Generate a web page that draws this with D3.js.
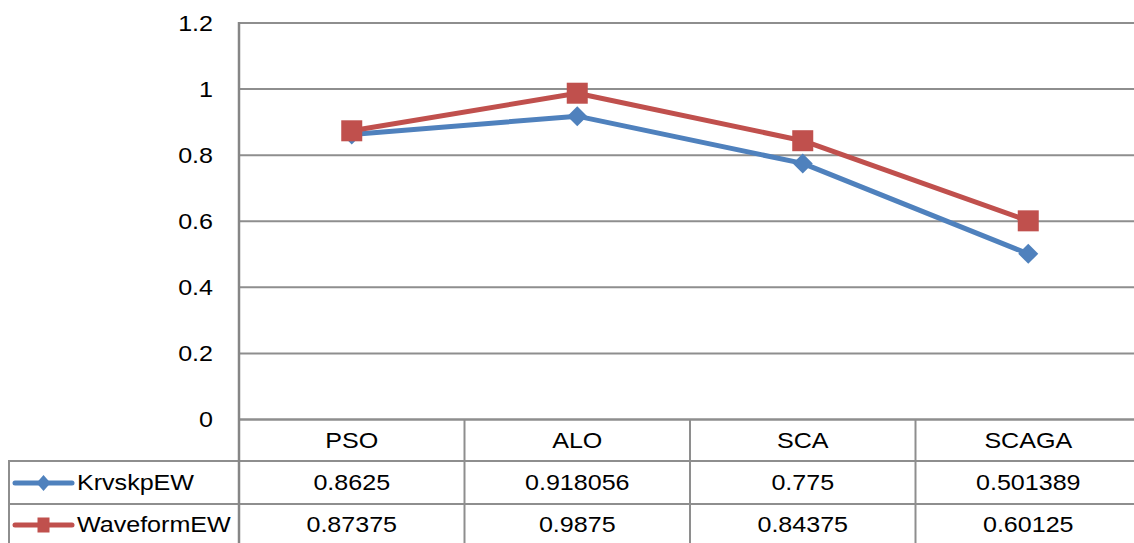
<!DOCTYPE html>
<html>
<head>
<meta charset="utf-8">
<script src="https://cdn.jsdelivr.net/npm/d3@7/dist/d3.min.js"></script>
<style>
  html, body { margin: 0; padding: 0; background: #fff; }
  svg { display: block; }
  text { font-family: "Liberation Sans", Arial, sans-serif; fill: #000; }
</style>
</head>
<body>
<svg id="chart" width="1134" height="543"></svg>
<script>
// Chart data
const categories = ["PSO", "ALO", "SCA", "SCAGA"];
const seriesNames = ["KrvskpEW", "WaveformEW"];
const krvskpValues = [0.8625, 0.918056, 0.775, 0.501389];
const waveformValues = [0.87375, 0.9875, 0.84375, 0.60125];
const krvskpLabels = ["0.8625", "0.918056", "0.775", "0.501389"];
const waveformLabels = ["0.87375", "0.9875", "0.84375", "0.60125"];
const yTicks = [0, 0.2, 0.4, 0.6, 0.8, 1, 1.2];

const W = 1134, H = 543;
const svg = d3.select("#chart");

const plotLeft = 239, colWidth = 225.5;
const x = d3.scaleBand().domain(categories).range([plotLeft, plotLeft + colWidth * categories.length]);
const y = d3.scaleLinear().domain([0, 1.2]).range([419.5, 23]);

const SX = 1.14; // horizontal stretch of the labels
function label(g, px, py, str, anchor, size) {
  return g.append("text")
    .attr("transform", `translate(${px},${py}) scale(${SX},1)`)
    .attr("text-anchor", anchor)
    .style("font-size", size + "px")
    .text(str);
}

// Horizontal gridlines
const grid = svg.append("g");
grid.selectAll("line").data(yTicks.filter(d => d > 0)).join("line")
  .attr("x1", plotLeft).attr("x2", W)
  .attr("y1", d => y(d)).attr("y2", d => y(d))
  .attr("stroke", "#8e8e8e").attr("stroke-width", 2);

// Y tick labels
const yl = svg.append("g");
yTicks.forEach(t => label(yl, 213, y(t) + 7.5, String(t), "end", 22));

// Data table
const rowTop = [419.5, 461, 504], rowH = [41.5, 43, 43];
const tbl = svg.append("g");
const lineColor = "#8e8e8e";
// horizontal lines
tbl.append("line").attr("x1", plotLeft).attr("x2", W).attr("y1", 419.5).attr("y2", 419.5)
  .attr("stroke", lineColor).attr("stroke-width", 2.5);
[461, 504].forEach(yy => tbl.append("line").attr("x1", 9).attr("x2", W)
  .attr("y1", yy).attr("y2", yy).attr("stroke", lineColor).attr("stroke-width", 2));
// left border of the legend column
tbl.append("line").attr("x1", 9).attr("x2", 9).attr("y1", 460).attr("y2", H)
  .attr("stroke", lineColor).attr("stroke-width", 2);
// column separators
categories.slice(1).forEach(c => tbl.append("line")
  .attr("x1", x(c)).attr("x2", x(c)).attr("y1", 419.5).attr("y2", H)
  .attr("stroke", lineColor).attr("stroke-width", 2));

// Vertical axis (extends down through the table)
svg.append("line").attr("x1", plotLeft).attr("x2", plotLeft).attr("y1", 22).attr("y2", H)
  .attr("stroke", "#868686").attr("stroke-width", 2.5);

// Table text
categories.forEach((c, i) => {
  const cx = x(c) + x.bandwidth() / 2;
  label(tbl, cx, 448, c, "middle", 22);
  label(tbl, cx, 490, krvskpLabels[i], "middle", 22);
  label(tbl, cx, 532, waveformLabels[i], "middle", 22);
});
label(tbl, 77, 490, seriesNames[0], "start", 22);
label(tbl, 77, 532, seriesNames[1], "start", 22);

// Series
const series = [
  { values: krvskpValues, color: "#4F81BD", marker: "diamond" },
  { values: waveformValues, color: "#C0504D", marker: "square" }
];
const line = d3.line()
  .x((d, i) => x(categories[i]) + x.bandwidth() / 2)
  .y(d => y(d));

function drawMarker(g, kind, cx, cy, w, h, color) {
  if (kind === "diamond") {
    g.append("path")
      .attr("d", `M${cx},${cy - h / 2}L${cx + w / 2},${cy}L${cx},${cy + h / 2}L${cx - w / 2},${cy}Z`)
      .attr("fill", color);
  } else {
    g.append("rect").attr("x", cx - w / 2).attr("y", cy - h / 2)
      .attr("width", w).attr("height", h).attr("fill", color);
  }
}

series.forEach(s => {
  const g = svg.append("g");
  g.append("path").datum(s.values)
    .attr("d", line).attr("fill", "none")
    .attr("stroke", s.color).attr("stroke-width", 5)
    .attr("stroke-linejoin", "round");
  s.values.forEach((v, i) => {
    const cx = x(categories[i]) + x.bandwidth() / 2;
    if (s.marker === "diamond") drawMarker(g, "diamond", cx, y(v), 20, 20, s.color);
    else drawMarker(g, "square", cx, y(v), 21, 21, s.color);
  });
});

// Legend keys inside the table
const keys = svg.append("g");
[[483, series[0]], [525, series[1]]].forEach(([ky, s]) => {
  keys.append("line").attr("x1", 15).attr("x2", 72).attr("y1", ky).attr("y2", ky)
    .attr("stroke", s.color).attr("stroke-width", 5).attr("stroke-linecap", "round");
  if (s.marker === "diamond") drawMarker(keys, "diamond", 43.5, ky, 14, 16, s.color);
  else drawMarker(keys, "square", 43.5, ky, 12, 15, s.color);
});
</script>
</body>
</html>
